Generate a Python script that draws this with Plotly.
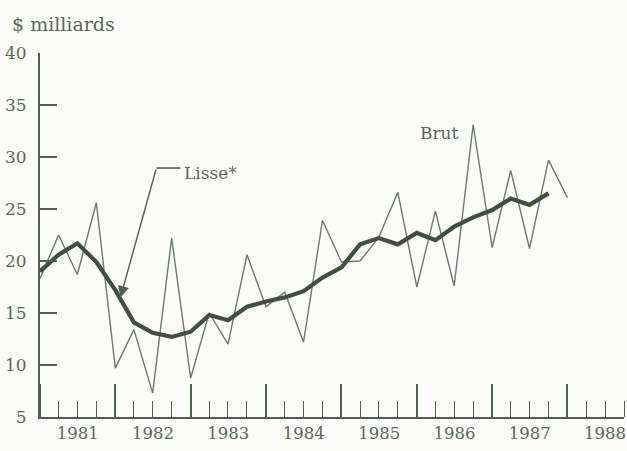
import plotly.graph_objects as go

quarters = [
    "1981-01-01", "1981-04-01", "1981-07-01", "1981-10-01",
    "1982-01-01", "1982-04-01", "1982-07-01", "1982-10-01",
    "1983-01-01", "1983-04-01", "1983-07-01", "1983-10-01",
    "1984-01-01", "1984-04-01", "1984-07-01", "1984-10-01",
    "1985-01-01", "1985-04-01", "1985-07-01", "1985-10-01",
    "1986-01-01", "1986-04-01", "1986-07-01", "1986-10-01",
    "1987-01-01", "1987-04-01", "1987-07-01", "1987-10-01",
    "1988-01-01",
]
brut = [18.3, 22.5, 18.7, 25.6, 9.7, 13.4, 7.3, 22.2, 8.75, 15.0, 12.0, 20.6,
        15.6, 17.0, 12.2, 23.9, 19.9, 20.0, 22.3, 26.6, 17.5, 24.8, 17.6, 33.1,
        21.3, 28.7, 21.2, 29.7, 26.1]
lisse = [19.0, 20.6, 21.7, 19.9, 17.2, 14.1, 13.1, 12.7, 13.2, 14.8, 14.3, 15.6,
         16.1, 16.5, 17.1, 18.4, 19.4, 21.6, 22.2, 21.6, 22.7, 22.0, 23.3, 24.2,
         24.9, 26.0, 25.4, 26.5]
y_ticks = [5, 10, 15, 20, 25, 30, 35, 40]

INK = "#4f604f"
TXT = "#586a58"
FONT = "DejaVu Serif"

fig = go.Figure()
fig.add_trace(go.Scatter(x=quarters, y=brut, mode="lines",
                         line=dict(color="#6a7a6d", width=1.4), name="Brut"))
fig.add_trace(go.Scatter(x=quarters[:len(lisse)], y=lisse, mode="lines",
                         line=dict(color="#3f503f", width=4.2), name="Lisse*"))

fig.update_layout(
    width=627, height=451,
    margin=dict(l=40, r=3, t=53, b=34),
    paper_bgcolor="#fbfcfa", plot_bgcolor="#fbfcfa",
    showlegend=False,
    font=dict(family=FONT, size=17, color=TXT),
    xaxis=dict(
        type="date", range=["1981-01-01", "1988-10-01"],
        tick0="1981-01-01", dtick="M12", tickformat="%Y",
        ticklabelmode="period", automargin=False,
        ticks="inside", ticklen=33, tickwidth=1.6, tickcolor=INK,
        minor=dict(dtick="M3", ticks="inside", ticklen=16, tickwidth=1.4, tickcolor=INK),
        showline=True, linecolor=INK, linewidth=2,
        showgrid=False, zeroline=False,
        tickfont=dict(family=FONT, size=16.5, color=TXT),
    ),
    yaxis=dict(
        range=[5, 40], tickvals=y_ticks, automargin=False,
        ticks="inside", ticklen=17, tickwidth=2, tickcolor=INK,
        showline=True, linecolor=INK, linewidth=2,
        showgrid=False, zeroline=False,
        ticklabelstandoff=8,
        tickfont=dict(family=FONT, size=17, color=TXT),
    ),
    annotations=[
        dict(text="$ milliards", xref="paper", yref="paper", x=-0.051, y=1.0,
             yshift=29, xanchor="left", yanchor="middle", showarrow=False,
             font=dict(family=FONT, size=19, color=TXT)),
        dict(text="Lisse*", x="1982-11-22", y=28.5, xanchor="left", yanchor="middle",
             showarrow=False, font=dict(family=FONT, size=17, color=TXT)),
        dict(text="", x="1982-01-26", y=16.5, ax="1982-07-19", ay=28.94,
             axref="x", ayref="y", showarrow=True, arrowhead=2, arrowsize=1.6,
             arrowwidth=1.4, arrowcolor=INK),
        dict(text="Brut", x="1986-04-20", y=32.3, xanchor="center", yanchor="middle",
             showarrow=False, font=dict(family=FONT, size=17, color=TXT)),
    ],
    shapes=[
        dict(type="line", x0="1982-07-19", y0=28.94, x1="1982-11-12", y1=28.94,
             line=dict(color=INK, width=1.6)),
    ],
)

fig.write_html(
    "out.html",
    config={"displayModeBar": False},
    post_script="document.body.style.margin='0';document.body.style.overflow='hidden';",
)
